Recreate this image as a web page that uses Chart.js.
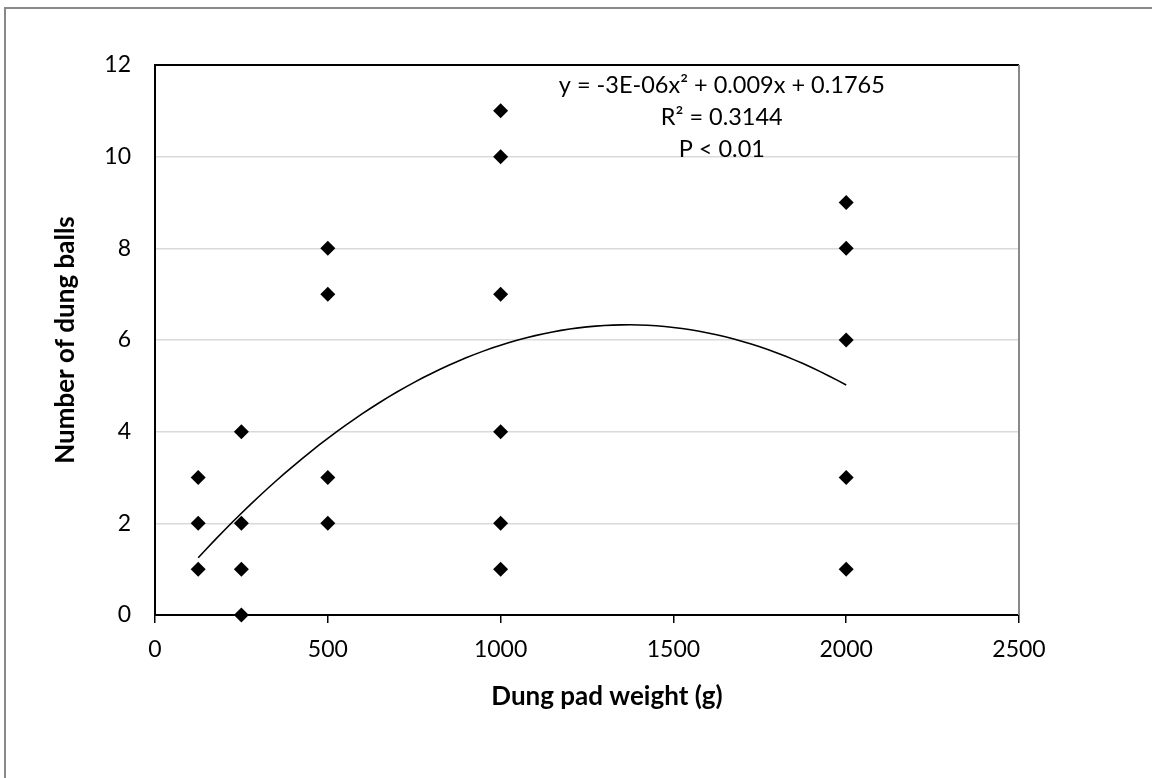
<!DOCTYPE html>
<html>
<head>
<meta charset="utf-8">
<script src="https://cdn.jsdelivr.net/npm/chart.js@4/dist/chart.umd.min.js"></script>
<style>
  html, body { margin: 0; padding: 0; background: #fff; }
  #wrap { width: 1152px; height: 778px; }
</style>
</head>
<body>
<div id="wrap"><canvas id="myChart" width="1152" height="778"></canvas></div>
<script>
// pad sizes tested (g) and dung balls counted for each pad
let weights = [125, 250, 500, 1000, 2000];
let balls125 = [3, 2, 1];
let balls250 = [4, 2, 1, 0];
let balls500 = [8, 7, 3, 2];
let balls1000 = [11, 10, 7, 4, 2, 1];
let balls2000 = [9, 8, 6, 3, 1];

// polynomial trendline, order 2 (a is shown rounded as -3E-06)
let trendCoef = [-3.29e-6, 0.009, 0.1765];
let trendLabel = ['y = -3E-06x\u00b2 + 0.009x + 0.1765', 'R\u00b2 = 0.3144', 'P < 0.01'];

let xTicks = [0, 500, 1000, 1500, 2000, 2500];
let yTicks = [0, 2, 4, 6, 8, 10, 12];

let groups = [balls125, balls250, balls500, balls1000, balls2000];
let points = [];
weights.forEach((w, i) => {
    groups[i].forEach(b => points.push({x: w, y: b}));
});

let trend = [];
for (let x = weights[0]; x <= weights[weights.length - 1]; x += 25) {
    trend.push({x: x, y: trendCoef[0] * x * x + trendCoef[1] * x + trendCoef[2]});
}

Chart.defaults.font.family = 'Lato';
Chart.defaults.color = '#000';

// frame of the chart area and the remaining plot edges
let frame = {
    id: 'frame',
    beforeDraw(chart) {
        let c = chart.ctx;
        c.save();
        c.strokeStyle = '#898989';
        c.lineWidth = 2;
        c.beginPath();
        c.moveTo(5, chart.height);
        c.lineTo(5, 8);
        c.lineTo(chart.width, 8);
        c.stroke();
        c.restore();
    },
    beforeDatasetsDraw(chart) {
        let a = chart.chartArea, c = chart.ctx;
        c.save();
        c.lineWidth = 2;
        c.strokeStyle = '#000';
        c.beginPath();
        c.moveTo(a.left, a.top);
        c.lineTo(a.right, a.top);
        c.stroke();
        c.strokeStyle = '#898989';
        c.beginPath();
        c.moveTo(a.right, a.top);
        c.lineTo(a.right, a.bottom);
        c.stroke();
        c.restore();
    }
};

// trendline equation and the x axis title
let labels = {
    id: 'labels',
    afterDraw(chart) {
        let c = chart.ctx, a = chart.chartArea;
        let x = chart.scales.x.getPixelForValue(1640);
        let y = a.top + 20;
        c.save();
        c.font = '23.5px Lato';
        c.fillStyle = '#000';
        c.textAlign = 'center';
        c.textBaseline = 'middle';
        trendLabel.forEach((t, i) => c.fillText(t, x, y + i * 32));
        c.font = 'bold 26px Lato';
        c.fillText('Dung pad weight (g)', (a.left + a.right) / 2 + 20, a.bottom + 82);
        c.restore();
    }
};

let ctx = document.getElementById('myChart').getContext('2d');

let chart = new Chart(ctx, {
    type: 'scatter',
    data: {
        datasets: [{
            label: 'Dung balls',
            data: points,
            pointStyle: 'rectRot',
            pointRadius: 7.5,
            backgroundColor: '#000',
            borderColor: '#000',
            borderWidth: 0,
            clip: false,
            order: 1
        }, {
            label: 'Poly. (Dung balls)',
            data: trend,
            showLine: true,
            pointRadius: 0,
            borderColor: '#000',
            borderWidth: 1.6,
            fill: false,
            order: 2
        }]
    },
    options: {
        responsive: false,
        animation: false,
        layout: {
            padding: {left: 0, top: 65, right: 133, bottom: 63}
        },
        plugins: {
            legend: {display: false},
            tooltip: {enabled: false}
        },
        scales: {
            x: {
                type: 'linear',
                min: 0,
                max: 2500,
                afterBuildTicks: s => { s.ticks = xTicks.map(v => ({value: v})); },
                afterFit: s => { s.height = 100; },
                ticks: {
                    font: {size: 23},
                    padding: 13,
                    callback: v => String(v)
                },
                grid: {
                    drawOnChartArea: false,
                    drawTicks: true,
                    tickLength: 8,
                    color: '#000',
                    lineWidth: 1.5
                },
                border: {color: '#000', width: 2}
            },
            y: {
                min: 0,
                max: 12,
                afterBuildTicks: s => { s.ticks = yTicks.map(v => ({value: v})); },
                afterFit: s => { s.width = 155; },
                ticks: {
                    font: {size: 23},
                    padding: 24
                },
                grid: {
                    drawTicks: false,
                    color: '#d9d9d9',
                    lineWidth: 1.5
                },
                border: {color: '#000', width: 2},
                title: {
                    display: true,
                    text: 'Number of dung balls',
                    font: {size: 26, weight: 'bold'},
                    padding: {top: 50}
                }
            }
        }
    },
    plugins: [frame, labels]
});
</script>
</body>
</html>
